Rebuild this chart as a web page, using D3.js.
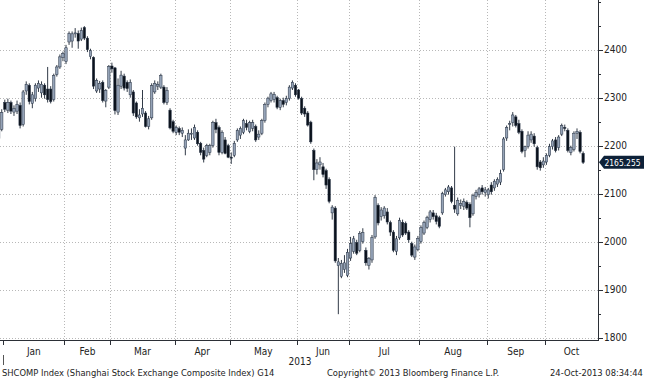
<!DOCTYPE html>
<html>
<head>
<meta charset="utf-8">
<script src="https://cdn.jsdelivr.net/npm/d3@7"></script>
<style>
  body { margin: 0; background: #fff; }
  svg text { font-family: "DejaVu Sans", Verdana, sans-serif; font-stretch: condensed; }
</style>
</head>
<body>
<div id="chart"></div>
<script>
// trading days shown (two late-2012 sessions bleed in at the left edge)
const dates = [
  '2012-12-28', '2012-12-31',
  '2013-01-04', '2013-01-07', '2013-01-08', '2013-01-09', '2013-01-10', '2013-01-11', '2013-01-14', '2013-01-15', '2013-01-16', '2013-01-17',
  '2013-01-18', '2013-01-21', '2013-01-22', '2013-01-23', '2013-01-24', '2013-01-25', '2013-01-28', '2013-01-29', '2013-01-30', '2013-01-31',
  '2013-02-01', '2013-02-04', '2013-02-05', '2013-02-06', '2013-02-07', '2013-02-08', '2013-02-18', '2013-02-19', '2013-02-20', '2013-02-21',
  '2013-02-22', '2013-02-25', '2013-02-26', '2013-02-27', '2013-02-28',
  '2013-03-01', '2013-03-04', '2013-03-05', '2013-03-06', '2013-03-07', '2013-03-08', '2013-03-11', '2013-03-12', '2013-03-13', '2013-03-14',
  '2013-03-15', '2013-03-18', '2013-03-19', '2013-03-20', '2013-03-21', '2013-03-22', '2013-03-25', '2013-03-26', '2013-03-27', '2013-03-28', '2013-03-29',
  '2013-04-01', '2013-04-02', '2013-04-03', '2013-04-08', '2013-04-09', '2013-04-10', '2013-04-11', '2013-04-12', '2013-04-15', '2013-04-16',
  '2013-04-17', '2013-04-18', '2013-04-19', '2013-04-22', '2013-04-23', '2013-04-24', '2013-04-25', '2013-04-26',
  '2013-05-02', '2013-05-03', '2013-05-06', '2013-05-07', '2013-05-08', '2013-05-09', '2013-05-10', '2013-05-13', '2013-05-14', '2013-05-15',
  '2013-05-16', '2013-05-17', '2013-05-20', '2013-05-21', '2013-05-22', '2013-05-23', '2013-05-24', '2013-05-27', '2013-05-28', '2013-05-29',
  '2013-05-30', '2013-05-31',
  '2013-06-03', '2013-06-04', '2013-06-05', '2013-06-06', '2013-06-07', '2013-06-13', '2013-06-14', '2013-06-17', '2013-06-18', '2013-06-19',
  '2013-06-20', '2013-06-21', '2013-06-24', '2013-06-25', '2013-06-26', '2013-06-27', '2013-06-28',
  '2013-07-01', '2013-07-02', '2013-07-03', '2013-07-04', '2013-07-05', '2013-07-08', '2013-07-09', '2013-07-10', '2013-07-11', '2013-07-12',
  '2013-07-15', '2013-07-16', '2013-07-17', '2013-07-18', '2013-07-19', '2013-07-22', '2013-07-23', '2013-07-24', '2013-07-25', '2013-07-26',
  '2013-07-29', '2013-07-30', '2013-07-31',
  '2013-08-01', '2013-08-02', '2013-08-05', '2013-08-06', '2013-08-07', '2013-08-08', '2013-08-09', '2013-08-12', '2013-08-13', '2013-08-14',
  '2013-08-15', '2013-08-16', '2013-08-19', '2013-08-20', '2013-08-21', '2013-08-22', '2013-08-23', '2013-08-26', '2013-08-27', '2013-08-28',
  '2013-08-29', '2013-08-30',
  '2013-09-02', '2013-09-03', '2013-09-04', '2013-09-05', '2013-09-06', '2013-09-09', '2013-09-10', '2013-09-11', '2013-09-12', '2013-09-13',
  '2013-09-16', '2013-09-17', '2013-09-18', '2013-09-23', '2013-09-24', '2013-09-25', '2013-09-26', '2013-09-27', '2013-09-30',
  '2013-10-08', '2013-10-09', '2013-10-10', '2013-10-11', '2013-10-14', '2013-10-15', '2013-10-16', '2013-10-17', '2013-10-18', '2013-10-21',
  '2013-10-22', '2013-10-23', '2013-10-24'
]

const open = [
  2215, 2234,
  2290, 2274, 2290, 2270, 2272, 2284, 2244, 2314, 2326, 2288, 2298, 2320, 2310, 2326, 2318, 2318, 2296, 2348, 2364, 2384,
  2375, 2416, 2418, 2434, 2434, 2422, 2446, 2424, 2386, 2384, 2314, 2318, 2332, 2293, 2322,
  2366, 2362, 2270, 2324, 2345, 2332, 2306, 2312, 2289, 2258, 2266, 2268, 2240, 2258, 2312, 2324, 2322, 2322, 2290, 2274, 2250,
  2228, 2236, 2226, 2195, 2212, 2224, 2216, 2228, 2205, 2190, 2180, 2186, 2200, 2248, 2238, 2186, 2212, 2200,
  2176, 2180, 2212, 2222, 2228, 2246, 2230, 2236, 2240, 2218, 2226, 2252, 2286, 2294, 2296, 2300, 2280, 2294, 2290, 2298, 2320, 2326,
  2316, 2298, 2278, 2268, 2249, 2190, 2150, 2160, 2156, 2148, 2130, 2060, 2070, 1950, 1928, 1942, 1930,
  1966, 1980, 1998, 1982, 2000, 1982, 1951, 1962, 2010, 2076, 2052, 2054, 2062, 2040, 2020, 1980, 2008, 2040, 2038, 2020, 1996, 1968, 1984,
  2000, 2018, 2030, 2046, 2060, 2054, 2050, 2060, 2098, 2104, 2112, 2076, 2058, 2076, 2074, 2082, 2078, 2058, 2094, 2098, 2112, 2102,
  2098, 2118, 2112, 2120, 2124, 2150, 2216, 2244, 2248, 2260, 2246, 2230, 2190, 2198, 2212, 2220, 2196, 2166, 2160,
  2166, 2180, 2198, 2212, 2196, 2224, 2238, 2232, 2186, 2192, 2226, 2228, 2184
]

const high = [
  2236, 2276,
  2296, 2298, 2294, 2284, 2294, 2290, 2316, 2334, 2330, 2312, 2330, 2336, 2334, 2330, 2364, 2324, 2350, 2368, 2390, 2396,
  2410, 2438, 2438, 2445, 2440, 2446, 2449, 2428, 2402, 2386, 2340, 2335, 2336, 2318, 2368,
  2373, 2364, 2340, 2356, 2350, 2336, 2338, 2316, 2292, 2276, 2316, 2272, 2262, 2330, 2336, 2334, 2350, 2326, 2322, 2278, 2254,
  2242, 2240, 2238, 2222, 2234, 2236, 2244, 2232, 2208, 2196, 2204, 2204, 2252, 2256, 2242, 2232, 2218, 2204,
  2186, 2210, 2236, 2240, 2256, 2254, 2252, 2254, 2244, 2232, 2256, 2290, 2302, 2312, 2312, 2304, 2298, 2300, 2304, 2326, 2336, 2330,
  2318, 2302, 2282, 2272, 2252, 2194, 2172, 2176, 2164, 2152, 2134, 2076, 2074, 1966, 1962, 1972, 1985,
  2010, 2012, 2004, 2022, 2028, 1988, 1968, 2014, 2097, 2080, 2072, 2074, 2070, 2044, 2024, 2012, 2050, 2046, 2042, 2024, 2000, 1994, 2012,
  2034, 2044, 2054, 2066, 2066, 2060, 2054, 2104, 2112, 2118, 2116, 2198, 2092, 2088, 2090, 2086, 2082, 2100, 2108, 2114, 2118, 2114,
  2112, 2124, 2130, 2134, 2150, 2218, 2242, 2252, 2270, 2264, 2254, 2234, 2200, 2230, 2230, 2226, 2200, 2170, 2176,
  2184, 2204, 2214, 2218, 2222, 2246, 2244, 2236, 2200, 2230, 2236, 2232, 2188
]

const low = [
  2206, 2230,
  2270, 2268, 2266, 2262, 2266, 2236, 2240, 2306, 2286, 2278, 2292, 2312, 2300, 2298, 2290, 2288, 2292, 2344, 2360, 2376,
  2370, 2410, 2404, 2425, 2402, 2418, 2420, 2395, 2380, 2318, 2310, 2310, 2290, 2280, 2318,
  2352, 2265, 2264, 2318, 2315, 2312, 2300, 2262, 2256, 2250, 2260, 2238, 2234, 2254, 2308, 2316, 2318, 2286, 2285, 2234, 2226,
  2222, 2222, 2218, 2180, 2210, 2212, 2212, 2200, 2180, 2165, 2176, 2180, 2196, 2226, 2180, 2182, 2182, 2174,
  2162, 2176, 2208, 2214, 2224, 2232, 2226, 2230, 2208, 2212, 2222, 2248, 2280, 2290, 2290, 2276, 2274, 2280, 2284, 2294, 2316, 2302,
  2296, 2264, 2260, 2240, 2204, 2128, 2140, 2150, 2134, 2110, 2080, 2046, 1956, 1849, 1924, 1935, 1926,
  1960, 1975, 1972, 1978, 1996, 1950, 1942, 1956, 2006, 2034, 2044, 2048, 2036, 2012, 1978, 1972, 2004, 2010, 2014, 1998, 1968, 1962, 1980,
  1996, 2014, 2026, 2040, 2046, 2036, 2028, 2056, 2094, 2098, 2080, 2060, 2054, 2068, 2066, 2066, 2030, 2054, 2088, 2092, 2098, 2094,
  2090, 2098, 2106, 2114, 2118, 2146, 2210, 2232, 2240, 2238, 2224, 2184, 2176, 2194, 2206, 2198, 2150, 2148, 2154,
  2160, 2176, 2192, 2186, 2190, 2220, 2230, 2186, 2180, 2188, 2214, 2184, 2162
]

const close = [
  2233, 2269,
  2276, 2290, 2272, 2278, 2286, 2242, 2312, 2328, 2292, 2306, 2326, 2330, 2328, 2306, 2296, 2292, 2346, 2364, 2385, 2392,
  2404, 2434, 2433, 2435, 2418, 2440, 2424, 2400, 2398, 2324, 2336, 2330, 2294, 2315, 2365,
  2360, 2273, 2326, 2347, 2320, 2319, 2332, 2268, 2260, 2264, 2278, 2240, 2256, 2325, 2330, 2328, 2346, 2290, 2315, 2237, 2230,
  2238, 2228, 2232, 2212, 2226, 2226, 2238, 2204, 2186, 2172, 2200, 2200, 2248, 2234, 2186, 2228, 2184, 2176,
  2174, 2205, 2232, 2236, 2252, 2238, 2248, 2248, 2212, 2224, 2252, 2286, 2299, 2308, 2307, 2280, 2294, 2286, 2298, 2322, 2332, 2306,
  2299, 2268, 2266, 2243, 2208, 2150, 2164, 2166, 2140, 2118, 2084, 2072, 1960, 1958, 1955, 1956, 1978,
  1996, 2006, 1976, 2017, 2019, 1956, 1965, 2009, 2092, 2039, 2066, 2070, 2041, 2020, 1982, 2006, 2044, 2014, 2018, 2004, 1972, 1989, 2007,
  2030, 2040, 2050, 2062, 2052, 2042, 2032, 2100, 2108, 2114, 2084, 2068, 2086, 2080, 2084, 2070, 2050, 2096, 2102, 2110, 2104, 2108,
  2108, 2104, 2126, 2130, 2142, 2214, 2238, 2246, 2264, 2242, 2228, 2188, 2198, 2222, 2224, 2204, 2156, 2154, 2168,
  2180, 2198, 2210, 2190, 2218, 2242, 2236, 2190, 2196, 2226, 2230, 2188, 2165.255
]

const yTicks = [1800, 1900, 2000, 2100, 2200, 2300, 2400]
const yMinor = [1850, 1950, 2050, 2150, 2250, 2350, 2450, 2500]
const yearLabel = '2013'
const lastLabel = '2165.255'
const footLeft = 'SHCOMP Index (Shanghai Stock Exchange Composite Index) G14'
const footMid = 'Copyright\u00a9 2013 Bloomberg Finance L.P.'
const footRight = '24-Oct-2013 08:34:44'

let width = 645
let height = 380
let plotW = 598
let plotH = 340

let svg = d3
  .select('#chart')
  .append('svg')
  .attr('width', width)
  .attr('height', height)

let parse = d3.timeParse('%Y-%m-%d')
// session index: first 2013 session is 0, the two 2012 sessions are -2 and -1
let rows = dates.map((d, i) => ({
  date: parse(d),
  k: i - 2,
  o: open[i],
  h: high[i],
  l: low[i],
  c: close[i]
}))

let x = d3.scaleLinear().domain([-1.57, 193.86]).range([0, plotW])
let y = d3.scaleLinear().domain([1795.2, 2503.5]).range([plotH, 0])

svg.append('defs')
  .append('clipPath')
  .attr('id', 'plot-clip')
  .append('rect')
  .attr('width', plotW)
  .attr('height', plotH)

// month boundaries (first session of each month)
let bounds = []
rows.forEach((d, i) => {
  if (i > 0 && d.date.getMonth() !== rows[i - 1].date.getMonth()) {
    bounds.push({ k: d.k, date: d.date })
  }
})

// grid
let grid = svg.append('g')
grid.selectAll('.hgrid')
  .data(yTicks)
  .enter()
  .append('line')
  .attr('x1', 0)
  .attr('x2', plotW)
  .attr('y1', d => Math.round(y(d)) + 0.5)
  .attr('y2', d => Math.round(y(d)) + 0.5)
  .attr('stroke', '#b8b8b8')
  .attr('stroke-dasharray', '1,2')
grid.selectAll('.vgrid')
  .data(bounds.slice(1))
  .enter()
  .append('line')
  .attr('x1', d => Math.round(x(d.k - 0.5)) + 0.5)
  .attr('x2', d => Math.round(x(d.k - 0.5)) + 0.5)
  .attr('y1', 0)
  .attr('y2', plotH)
  .attr('stroke', '#b8b8b8')
  .attr('stroke-dasharray', '1,2')

// candles
let candles = svg.append('g').attr('clip-path', 'url(#plot-clip)')
let bodyW = 2.4
candles.selectAll('.wick')
  .data(rows)
  .enter()
  .append('line')
  .attr('x1', d => x(d.k))
  .attr('x2', d => x(d.k))
  .attr('y1', d => y(d.h))
  .attr('y2', d => y(d.l))
  .attr('stroke', '#1a2432')
  .attr('stroke-width', 0.9)
candles.selectAll('.body')
  .data(rows)
  .enter()
  .append('rect')
  .attr('x', d => x(d.k) - bodyW / 2)
  .attr('width', bodyW)
  .attr('y', d => y(Math.max(d.o, d.c)))
  .attr('height', d => Math.max(1, Math.abs(y(d.o) - y(d.c))))
  .attr('fill', d => (d.c >= d.o ? '#95a3b7' : '#0b121c'))
  .attr('stroke', '#243042')
  .attr('stroke-width', 0.5)

// right axis
let axisColor = '#2b2f36'
svg.append('line')
  .attr('x1', plotW + 0.5)
  .attr('x2', plotW + 0.5)
  .attr('y1', 0)
  .attr('y2', plotH + 1)
  .attr('stroke', axisColor)
svg.selectAll('.ytick')
  .data(yTicks)
  .enter()
  .append('line')
  .attr('x1', plotW)
  .attr('x2', plotW + 5)
  .attr('y1', d => Math.round(y(d)) + 0.5)
  .attr('y2', d => Math.round(y(d)) + 0.5)
  .attr('stroke', axisColor)
svg.selectAll('.yminor')
  .data(yMinor)
  .enter()
  .append('line')
  .attr('x1', plotW)
  .attr('x2', plotW + 3)
  .attr('y1', d => Math.round(y(d)) + 0.5)
  .attr('y2', d => Math.round(y(d)) + 0.5)
  .attr('stroke', axisColor)
svg.selectAll('.ylabel')
  .data(yTicks)
  .enter()
  .append('text')
  .attr('x', plotW + 6)
  .attr('y', d => y(d))
  .attr('dy', '0.36em')
  .attr('font-size', 10)
  .attr('fill', '#222')
  .text(d => d)

// last price flag
let ly = y(close[close.length - 1])
svg.append('path')
  .attr('d', `M${plotW + 1},${ly} L${plotW + 6},${ly - 6.5} L${width - 1},${ly - 6.5} L${width - 1},${ly + 6.5} L${plotW + 6},${ly + 6.5} Z`)
  .attr('fill', '#0d2138')
svg.append('text')
  .attr('x', plotW + 6.5)
  .attr('y', ly)
  .attr('dy', '0.36em')
  .attr('font-size', 9.5)
  .attr('textLength', 36)
  .attr('lengthAdjust', 'spacingAndGlyphs')
  .attr('fill', '#fff')
  .text(lastLabel)

// bottom axis
svg.append('line')
  .attr('x1', 0)
  .attr('x2', plotW + 1)
  .attr('y1', plotH + 0.5)
  .attr('y2', plotH + 0.5)
  .attr('stroke', axisColor)
svg.selectAll('.xtick')
  .data(bounds)
  .enter()
  .append('line')
  .attr('x1', d => Math.round(x(d.k - 0.5)) + 0.5)
  .attr('x2', d => Math.round(x(d.k - 0.5)) + 0.5)
  .attr('y1', plotH)
  .attr('y2', plotH + 5)
  .attr('stroke', axisColor)
// year marker at the first session of 2013
svg.append('line')
  .attr('x1', Math.round(x(-0.5)) + 0.5)
  .attr('x2', Math.round(x(-0.5)) + 0.5)
  .attr('y1', plotH + 15)
  .attr('y2', plotH + 25)
  .attr('stroke', '#555')
let fmt = d3.timeFormat('%b')
svg.selectAll('.xlabel')
  .data(bounds)
  .enter()
  .append('text')
  .attr('x', (d, i) => {
    let a = x(d.k - 0.5)
    let b = i < bounds.length - 1 ? x(bounds[i + 1].k - 0.5) : plotW
    return (a + b) / 2
  })
  .attr('y', plotH + 15)
  .attr('text-anchor', 'middle')
  .attr('font-size', 10)
  .attr('fill', '#222')
  .text(d => fmt(d.date))
svg.append('text')
  .attr('x', 300)
  .attr('y', plotH + 25)
  .attr('text-anchor', 'middle')
  .attr('font-size', 10)
  .attr('fill', '#222')
  .text(yearLabel)

// footer
let foot = svg.append('g').attr('font-size', 9.3).attr('fill', '#222')
foot.append('text').attr('x', 2).attr('y', 376).text(footLeft)
foot.append('text').attr('x', 327).attr('y', 376).text(footMid)
foot.append('text').attr('x', 550).attr('y', 376).text(footRight)
</script>
</body>
</html>
